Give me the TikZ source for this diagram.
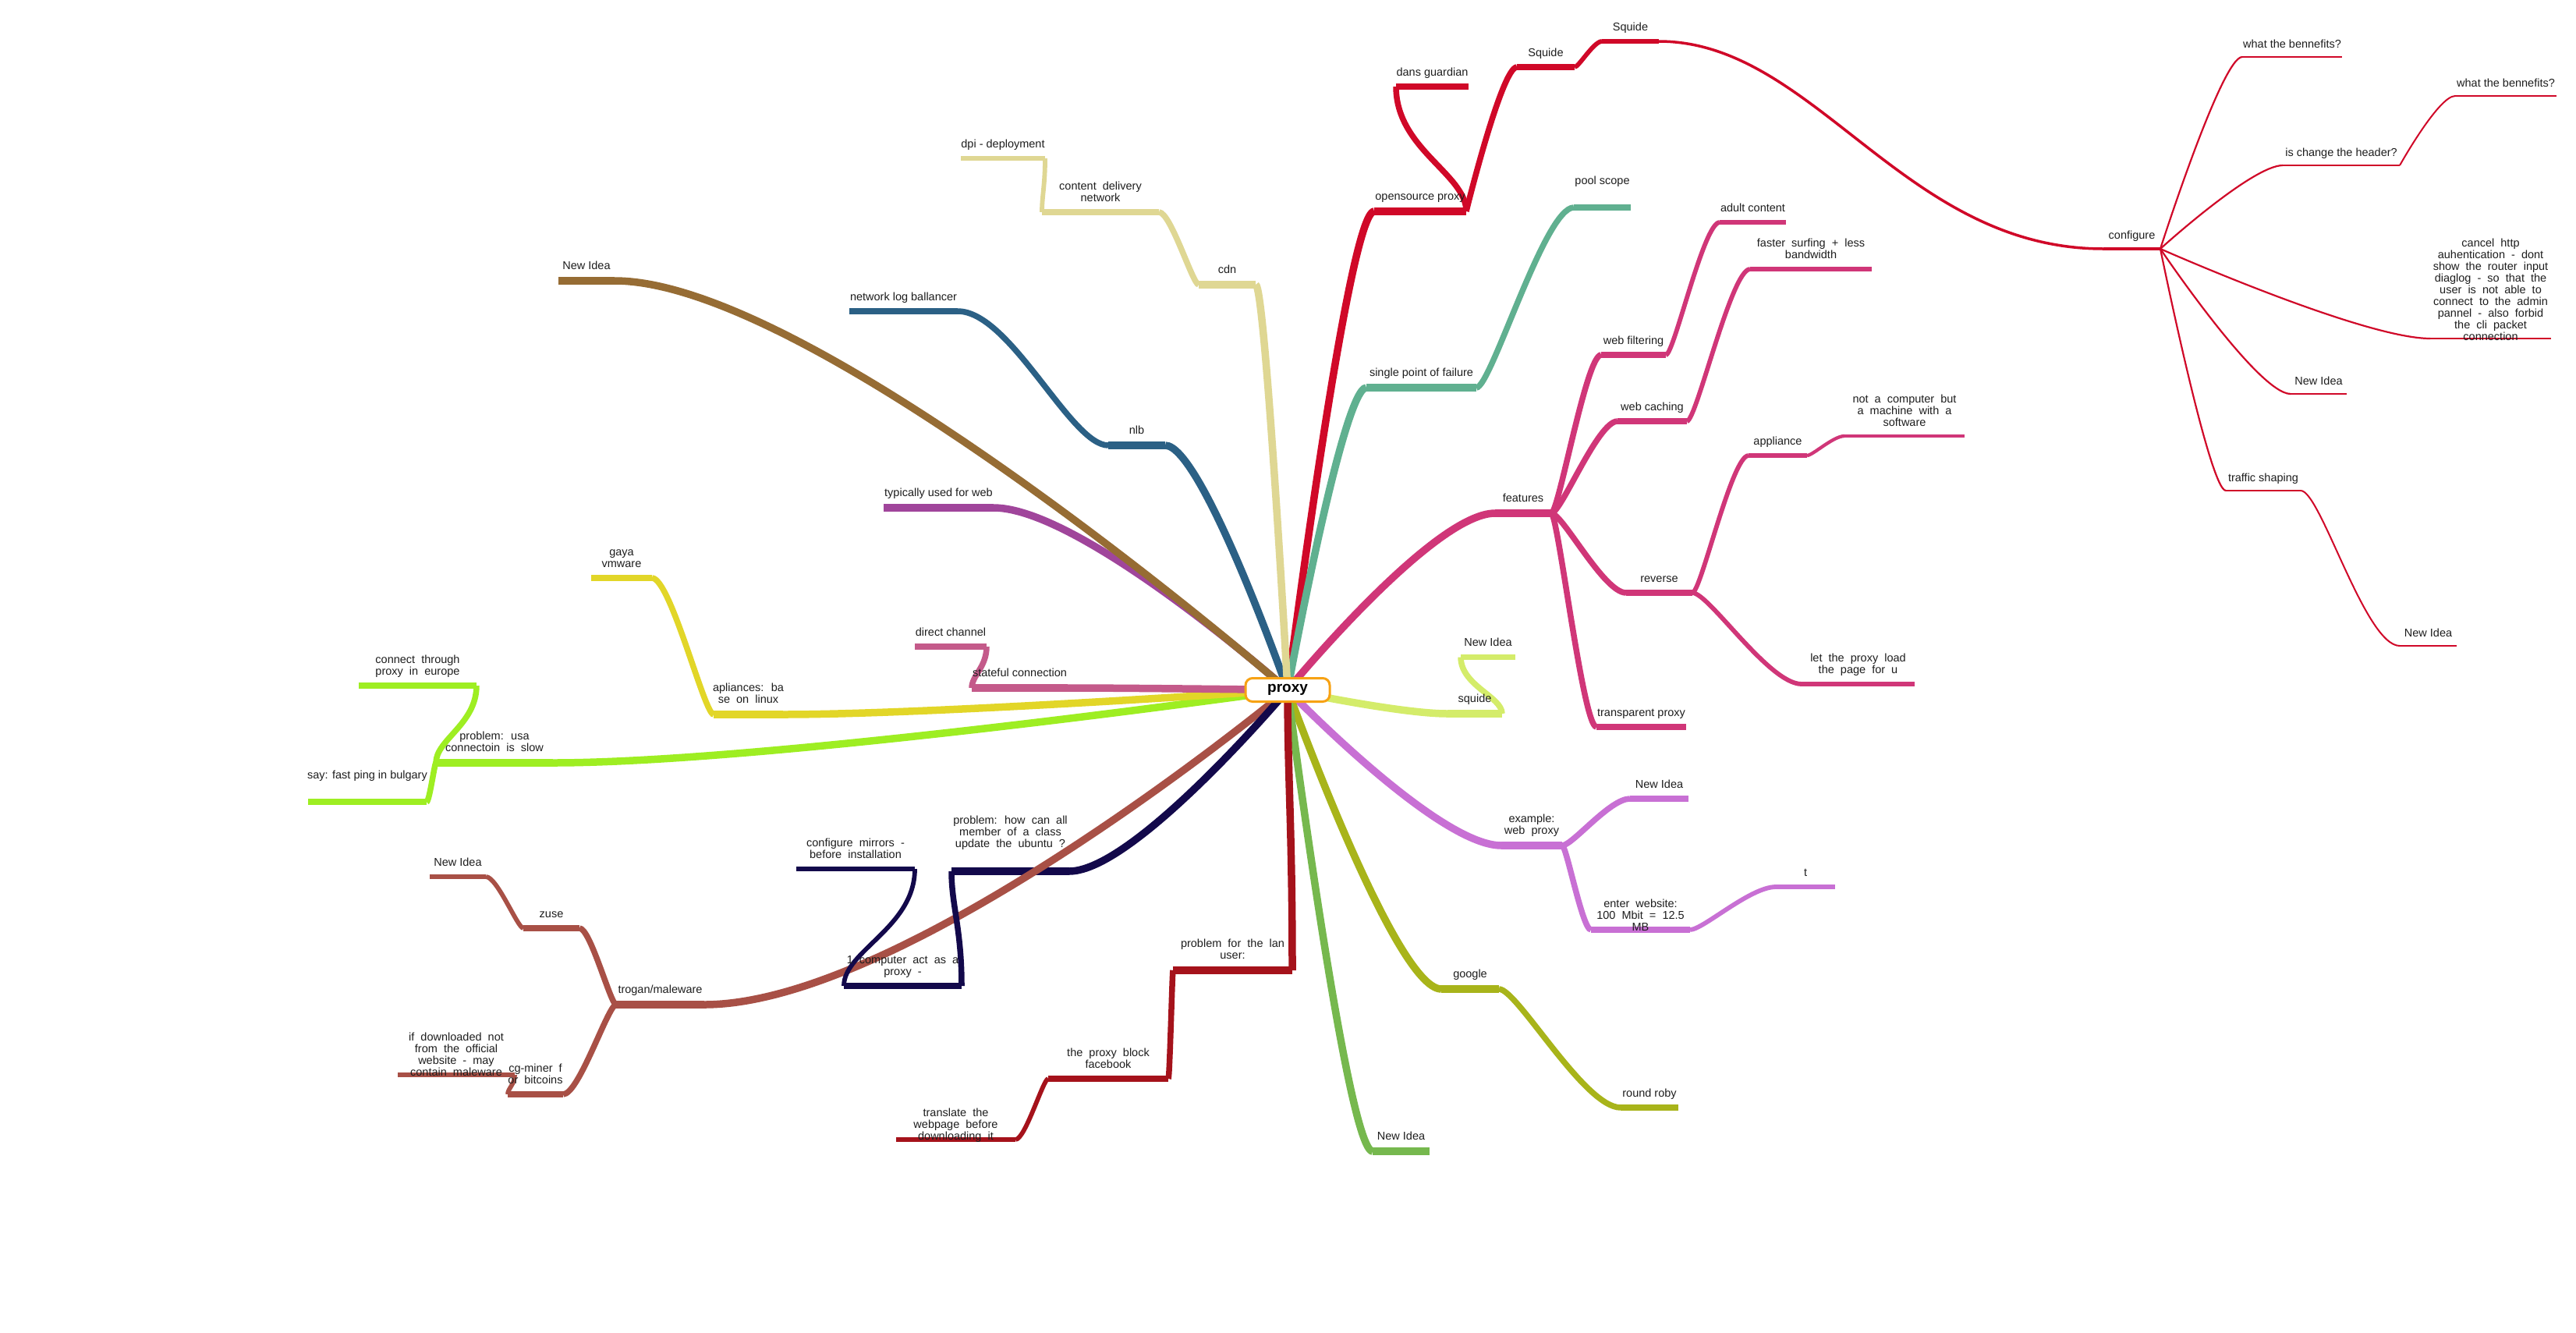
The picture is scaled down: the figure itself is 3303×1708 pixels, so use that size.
\documentclass[tikz,border=0pt]{standalone}
\usepackage{fontspec}
\setmainfont{Liberation Sans}
\usetikzlibrary{calc}

% branch colours
\definecolor{cRed}{RGB}{208,8,40}
\definecolor{cTeal}{RGB}{96,176,144}
\definecolor{cFeat}{RGB}{208,54,120}
\definecolor{cLGreen}{RGB}{212,236,106}
\definecolor{cExam}{RGB}{200,112,212}
\definecolor{cOlive}{RGB}{168,180,26}
\definecolor{cGreen}{RGB}{118,184,78}
\definecolor{cLan}{RGB}{165,18,27}
\definecolor{cTrog}{RGB}{168,80,70}
\definecolor{cNavy}{RGB}{19,9,75}
\definecolor{cLime}{RGB}{158,238,34}
\definecolor{cYell}{RGB}{226,214,40}
\definecolor{cStf}{RGB}{196,90,138}
\definecolor{cTyp}{RGB}{160,69,155}
\definecolor{cBrown}{RGB}{150,108,52}
\definecolor{cBlue}{RGB}{43,96,133}
\definecolor{cBeige}{RGB}{223,215,147}
\definecolor{cOrange}{RGB}{247,162,20}
\definecolor{cText}{RGB}{30,30,30}

\pgfdeclarelayer{lines}
\pgfsetlayers{lines,main}

% label fonts: normal, and with double word spacing for wrapped labels
\newcommand\lblfont{\fontsize{14.5}{15}\selectfont}
\newcommand\widesp{\spaceskip 0.556em\relax}

\tikzset{
  lbl/.style={font={\lblfont}, text=cText, inner sep=0pt,
              align=center, anchor=south, execute at end node=\strut},
  wide/.style={font={\lblfont\widesp}},
  rootbox/.style={draw=cOrange, line width=3pt, fill=white, rounded corners=9pt,
              minimum width=108pt, minimum height=30pt, inner sep=0pt,
              font={\bfseries\fontsize{19}{19}\selectfont}, text=black},
}

% an idea: underline from xl to xr at height y, label set above it
% [#1 label options] #2 name, #3 colour, #4 line width, #5 xl, #6 xr, #7 y, #8 extra raise, #9 text
\NewDocumentCommand\mmidea{O{}mmmmmmmm}{%
  \coordinate (#2-l) at (#5,#7);
  \coordinate (#2-r) at (#6,#7);
  \begin{pgfonlayer}{lines}
    \draw[#3, line width=#4pt] (#2-l) -- (#2-r);
  \end{pgfonlayer}
  \node[lbl,#1] (#2) at ({(#5+#6)/2},{#7-#4/2-5.5-(#8)}) {#9};
}

% curved branch arriving level at the child
\NewDocumentCommand\mmlink{O{0.15}O{0.3}mmmm}{%
  \begin{pgfonlayer}{lines}
    \draw[#3, line width=#4pt] let \p1=(#5), \p2=(#6) in
      (\p1) .. controls ({\x1+#1*(\x2-\x1)},\y1) and ({\x2-#2*(\x2-\x1)},\y2) .. (\p2);
  \end{pgfonlayer}
}

% branch that turns back and arrives upright at the child
\NewDocumentCommand\mmlinkb{O{0.3}O{0.5}mmmm}{%
  \begin{pgfonlayer}{lines}
    \draw[#3, line width=#4pt] let \p1=(#5), \p2=(#6) in
      (\p1) .. controls (\x1,{\y1+#1*(\y2-\y1)}) and (\x2,{\y2-#2*(\y2-\y1)}) .. (\p2);
  \end{pgfonlayer}
}

\begin{document}
\begin{tikzpicture}[x=1pt,y=-1pt]
\begin{pgfonlayer}{lines}
  \fill[white] (0,0) rectangle (3303,1708);
\end{pgfonlayer}
\useasboundingbox (0,0) rectangle (3303,1708);

% ---------- centre ----------
\node[rootbox] (proxy) at (1651,884.5) {proxy};

% ---------- opensource proxy ----------
\mmidea{osp}{cRed}{9.5}{1762}{1880}{271}{0}{opensource proxy}
\mmidea{dans}{cRed}{7.5}{1790}{1883}{111}{0}{dans guardian}
\mmidea{squA}{cRed}{7.5}{1945}{2019}{86}{0}{Squide}
\mmidea{squB}{cRed}{5.8}{2054}{2127}{53}{0}{Squide}
\mmidea{conf}{cRed}{4.3}{2697}{2770}{319}{0}{configure}
\mmidea{wtbA}{cRed}{2.2}{2875}{3003}{73}{0}{what the bennefits?}
\mmidea{hdr}{cRed}{2.2}{2927}{3077}{212}{0}{is change the header?}
\mmidea{wtbB}{cRed}{2}{3148}{3278}{123}{0}{what the bennefits?}
\mmidea[wide]{cancel}{cRed}{2.2}{3116}{3271}{434}{-14}{cancel http\\auhentication - dont\\show the router input\\diaglog - so that the\\user is not able to\\connect to the admin\\pannel - also forbid\\the cli packet\\connection}
\mmidea{niC}{cRed}{2.2}{2937}{3009}{505}{0}{New Idea}
\mmidea{traffic}{cRed}{2.2}{2854}{2950}{629}{0}{traffic shaping}
\mmidea{niT}{cRed}{2}{3077}{3150}{828}{0}{New Idea}

% ---------- single point of failure ----------
\mmidea{spof}{cTeal}{9.5}{1752}{1893}{497}{0}{single point of failure}
\mmidea{pool}{cTeal}{7.5}{2018}{2091}{266}{16}{pool scope}

% ---------- features ----------
\mmidea{feat}{cFeat}{9.5}{1917}{1989}{658}{0}{features}
\mmidea{wfil}{cFeat}{7.5}{2053}{2136}{455}{0}{web filtering}
\mmidea{adult}{cFeat}{5.8}{2205}{2290}{285}{0}{adult content}
\mmidea{wcach}{cFeat}{7.5}{2074}{2163}{540}{0}{web caching}
\mmidea[wide]{faster}{cFeat}{5.8}{2244}{2400}{345}{0}{faster surfing + less\\bandwidth}
\mmidea{rev}{cFeat}{7.5}{2085}{2170}{760}{0}{reverse}
\mmidea{appl}{cFeat}{5.8}{2242}{2317}{584}{0}{appliance}
\mmidea[wide]{notc}{cFeat}{4.3}{2365}{2519}{559}{0}{not a computer but\\a machine with a\\software}
\mmidea[wide]{letp}{cFeat}{5.8}{2310}{2455}{877}{0}{let the proxy load\\the page for u}
\mmidea{transp}{cFeat}{7.5}{2047}{2162}{932}{0}{transparent proxy}

% ---------- squide ----------
\mmidea{sq}{cLGreen}{9.5}{1856}{1926}{915}{0}{squide}
\mmidea{niS}{cLGreen}{7.5}{1873}{1943}{842.5}{0}{New Idea}

% ---------- example: web proxy ----------
\mmidea[wide]{ex}{cExam}{9.5}{1925}{2003}{1084}{0}{example:\\web proxy}
\mmidea{niE}{cExam}{7.5}{2090}{2165}{1024}{0}{New Idea}
\mmidea[wide]{ent}{cExam}{7.5}{2040}{2167}{1192}{-15}{enter website:\\100 Mbit = 12.5\\MB}
\mmidea{t}{cExam}{5.8}{2277}{2353}{1137}{0}{t}

% ---------- google ----------
\mmidea{goo}{cOlive}{9.5}{1848}{1922}{1268}{0}{google}
\mmidea{rr}{cOlive}{7.5}{2078}{2152}{1420}{0}{round roby}

% ---------- New Idea (bottom) ----------
\mmidea{niG}{cGreen}{9.5}{1760}{1833}{1476}{0}{New Idea}

% ---------- problem for the lan user ----------
\mmidea[wide]{lan}{cLan}{9.5}{1504}{1657}{1244}{0}{problem for the lan\\user:}
\mmidea[wide]{fb}{cLan}{7.5}{1344}{1498}{1383}{0}{the proxy block\\facebook}
\mmidea[wide]{tr}{cLan}{5.8}{1149}{1302}{1461}{-14}{translate the\\webpage before\\downloading it}

% ---------- ubuntu mirrors ----------
\mmidea[wide]{phow}{cNavy}{9.5}{1220}{1371}{1117}{16}{problem: how can all\\member of a class\\update the ubuntu ?}
\mmidea[wide]{comp}{cNavy}{7.5}{1082}{1233}{1264}{0}{1 computer act as a\\proxy -}
\mmidea[wide]{cmir}{cNavy}{5.8}{1021}{1173}{1114}{0}{configure mirrors -\\before installation}

% ---------- trogan/maleware ----------
\mmidea{trog}{cTrog}{9.5}{790}{903}{1288}{0}{trogan/maleware}
\mmidea{zuse}{cTrog}{7.5}{671}{743}{1190}{0}{zuse}
\mmidea{niZ}{cTrog}{5.8}{551}{623}{1124}{0}{New Idea}
\mmidea[wide]{cg}{cTrog}{7.5}{651}{722}{1403}{0}{cg-miner f\\or bitcoins}
\mmidea[wide]{ifd}{cTrog}{5.8}{510}{660}{1378}{-15}{if downloaded not\\from the official\\website - may\\contain maleware}

% ---------- problem: usa ----------
\mmidea[wide]{pusa}{cLime}{9.5}{559}{709}{978}{0}{problem: usa\\connectoin is slow}
\mmidea[wide]{conn}{cLime}{7.5}{460}{611}{879}{0}{connect through\\proxy in europe}
\mmidea{say}{cLime}{7.5}{395}{547}{1028}{16}{say: fast ping in bulgary}

% ---------- apliances ----------
\mmidea[wide]{apl}{cYell}{9.5}{915}{1004}{916}{0}{apliances: ba\\se on linux}
\mmidea{gaya}{cYell}{7.5}{758}{836}{741}{0}{gaya\\vmware}

% ---------- stateful connection ----------
\mmidea{stf}{cStf}{9.5}{1246}{1369}{882}{0}{stateful connection}
\mmidea{dch}{cStf}{7.5}{1173}{1265}{829}{0}{direct channel}

% ---------- single left ideas ----------
\mmidea{typ}{cTyp}{9.5}{1133}{1274}{651}{0}{typically used for web}
\mmidea{niB}{cBrown}{9.5}{716}{788}{360}{0}{New Idea}

% ---------- nlb ----------
\mmidea{nlb}{cBlue}{9.5}{1421}{1494}{571}{0}{nlb}
\mmidea{nlbl}{cBlue}{7.5}{1089}{1228}{399}{0}{network log ballancer}

% ---------- cdn ----------
\mmidea{cdn}{cBeige}{9.5}{1537}{1610}{365}{0}{cdn}
\mmidea[wide]{cdnet}{cBeige}{7.5}{1336}{1486}{272}{0}{content delivery\\network}
\mmidea{dpi}{cBeige}{5.8}{1232}{1340}{203}{0}{dpi - deployment}

% ========== connectors ==========
% from the centre
\mmlink[0][0.3]{cRed}{9.5}{proxy.center}{osp-l}
\mmlink[0][0.3]{cTeal}{9.5}{proxy.center}{spof-l}
\mmlink[0][0.3]{cFeat}{9.5}{proxy.center}{feat-l}
\mmlink[0][0.3]{cLGreen}{9.5}{proxy.center}{sq-l}
\mmlink[0][0.3]{cExam}{9.5}{proxy.center}{ex-l}
\mmlink[0][0.3]{cOlive}{9.5}{proxy.center}{goo-l}
\mmlink[0][0.3]{cGreen}{9.5}{proxy.center}{niG-l}
\mmlinkb{cLan}{9.5}{proxy.center}{lan-r}
\mmlink[0][0.35]{cTrog}{9.5}{proxy.center}{trog-r}
\mmlink[0][0.3]{cNavy}{9.5}{proxy.center}{phow-r}
\mmlink[0][0.3]{cLime}{9.5}{proxy.center}{pusa-r}
\mmlink[0][0.3]{cYell}{9.5}{proxy.center}{apl-r}
\mmlink[0][0.3]{cStf}{9.5}{proxy.center}{stf-r}
\mmlink[0][0.3]{cTyp}{9.5}{proxy.center}{typ-r}
\mmlink[0][0.3]{cBrown}{9.5}{proxy.center}{niB-r}
\mmlink[0][0.3]{cBlue}{9.5}{proxy.center}{nlb-r}
\mmlink[0][0.3]{cBeige}{9.5}{proxy.center}{cdn-r}

% opensource proxy
\mmlinkb{cRed}{7.5}{osp-r}{dans-l}
\mmlink[0][0.3]{cRed}{7.5}{osp-r}{squA-l}
\mmlink{cRed}{5.8}{squA-r}{squB-l}
\mmlink[0.35][0.45]{cRed}{3.5}{squB-r}{conf-l}
\mmlink[0][0.25]{cRed}{2.2}{conf-r}{wtbA-l}
\mmlink[0][0.25]{cRed}{2.2}{conf-r}{hdr-l}
\mmlink[0][0.25]{cRed}{2.2}{conf-r}{cancel-l}
\mmlink[0][0.25]{cRed}{2.2}{conf-r}{niC-l}
\mmlink[0][0.25]{cRed}{2.2}{conf-r}{traffic-l}
\mmlink[0][0.3]{cRed}{2}{hdr-r}{wtbB-l}
\mmlink[0.2][0.35]{cRed}{2}{traffic-r}{niT-l}

% single point of failure
\mmlink{cTeal}{7.5}{spof-r}{pool-l}

% features
\mmlink{cFeat}{7.5}{feat-r}{wfil-l}
\mmlink{cFeat}{7.5}{feat-r}{wcach-l}
\mmlink{cFeat}{7.5}{feat-r}{rev-l}
\mmlink{cFeat}{7.5}{feat-r}{transp-l}
\mmlink{cFeat}{5.8}{wfil-r}{adult-l}
\mmlink{cFeat}{5.8}{wcach-r}{faster-l}
\mmlink{cFeat}{5.8}{rev-r}{appl-l}
\mmlink{cFeat}{5.8}{rev-r}{letp-l}
\mmlink{cFeat}{4.3}{appl-r}{notc-l}

% squide, example, google
\mmlinkb{cLGreen}{7.5}{sq-r}{niS-l}
\mmlink{cExam}{7.5}{ex-r}{niE-l}
\mmlink{cExam}{7.5}{ex-r}{ent-l}
\mmlink{cExam}{5.8}{ent-r}{t-l}
\mmlink{cOlive}{7.5}{goo-r}{rr-l}

% left-hand branches
\mmlink{cLan}{7.5}{lan-l}{fb-r}
\mmlink{cLan}{5.8}{fb-l}{tr-r}
\mmlinkb{cNavy}{7.5}{phow-l}{comp-r}
\mmlinkb{cNavy}{5.8}{comp-l}{cmir-r}
\mmlink{cTrog}{7.5}{trog-l}{zuse-r}
\mmlink{cTrog}{7.5}{trog-l}{cg-r}
\mmlink{cTrog}{5.8}{zuse-l}{niZ-r}
\mmlinkb{cTrog}{5.8}{cg-l}{ifd-r}
\mmlinkb{cLime}{7.5}{pusa-l}{conn-r}
\mmlink{cLime}{7.5}{pusa-l}{say-r}
\mmlink{cYell}{7.5}{apl-l}{gaya-r}
\mmlinkb{cStf}{7.5}{stf-l}{dch-r}
\mmlink[0.25][0.35]{cBlue}{7.5}{nlb-l}{nlbl-r}
\mmlink{cBeige}{7.5}{cdn-l}{cdnet-r}
\mmlinkb{cBeige}{5.8}{cdnet-l}{dpi-r}
\end{tikzpicture}
\end{document}
